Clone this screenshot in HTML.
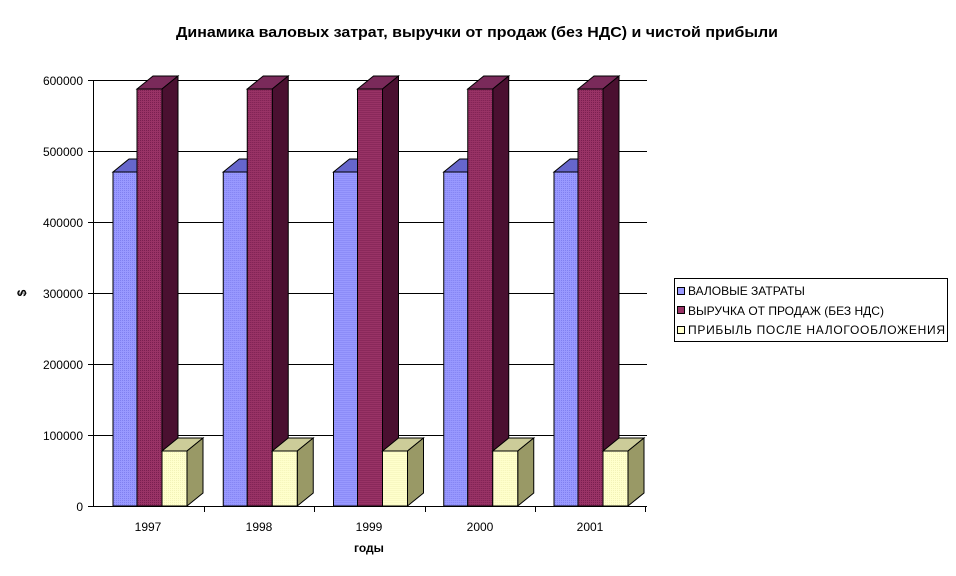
<!DOCTYPE html>
<html><head><meta charset="utf-8"><style>
body{margin:0;background:#fff}
svg{display:block}
text{font-family:"Liberation Sans",sans-serif}
</style></head><body>
<svg width="956" height="576" viewBox="0 0 956 576" xmlns="http://www.w3.org/2000/svg">
<defs>
<pattern id="pb" width="2" height="2" patternUnits="userSpaceOnUse"><rect width="2" height="2" fill="#9999ff"/><rect width="1" height="1" fill="#8080f0"/></pattern>
<pattern id="pm" width="2" height="2" patternUnits="userSpaceOnUse"><rect width="2" height="2" fill="#993366"/><rect width="1" height="1" fill="#7a1f50"/></pattern>
<pattern id="py" width="2" height="2" patternUnits="userSpaceOnUse"><rect width="2" height="2" fill="#ffffcc"/><rect width="1" height="1" fill="#f2f2b8"/></pattern>
</defs>
<text x="176" y="37" font-size="15" font-weight="bold" textLength="602" lengthAdjust="spacingAndGlyphs">Динамика валовых затрат, выручки от продаж (без НДС) и чистой прибыли</text>
<g stroke="#000" stroke-width="1">
<line x1="88" y1="80.5" x2="647" y2="80.5"/>
<line x1="88" y1="151.5" x2="647" y2="151.5"/>
<line x1="88" y1="222.5" x2="647" y2="222.5"/>
<line x1="88" y1="293.5" x2="647" y2="293.5"/>
<line x1="88" y1="364.5" x2="647" y2="364.5"/>
<line x1="88" y1="435.5" x2="647" y2="435.5"/>
<line x1="88" y1="506.5" x2="647" y2="506.5"/>
<line x1="93.5" y1="80" x2="93.5" y2="507"/>
<line x1="204.5" y1="506" x2="204.5" y2="512"/>
<line x1="314.5" y1="506" x2="314.5" y2="512"/>
<line x1="425.5" y1="506" x2="425.5" y2="512"/>
<line x1="535.5" y1="506" x2="535.5" y2="512"/>
<line x1="645.5" y1="506" x2="645.5" y2="512"/>
</g>
<g font-size="12" text-anchor="end">
<text x="83" y="85">600000</text><text x="83" y="156">500000</text><text x="83" y="227">400000</text>
<text x="83" y="298">300000</text><text x="83" y="369">200000</text><text x="83" y="440">100000</text><text x="83" y="511">0</text>
</g>
<g font-size="12" text-anchor="middle">
<text x="148" y="531">1997</text><text x="259" y="531">1998</text><text x="369" y="531">1999</text><text x="480" y="531">2000</text><text x="590" y="531">2001</text>
</g>
<text x="369" y="552" font-size="12" font-weight="bold" text-anchor="middle">годы</text>
<text transform="translate(26,293) rotate(-90)" font-size="12" font-weight="bold" text-anchor="middle">$</text>
<g id="grp" stroke="#000" stroke-width="1">
<polygon points="113,172 129,159 153,159 137,172" fill="#6666cc"/>
<rect x="113" y="172" width="24" height="334" fill="url(#pb)"/>
<polygon points="137,89 153,76 178,76 162,89" fill="#7a2a5a"/>
<polygon points="162,89 178,76 178,493 162,506" fill="#4a1030"/>
<rect x="137" y="89" width="25" height="417" fill="url(#pm)"/>
<polygon points="162,451 178,438 203,438 187,451" fill="#cccc99"/>
<polygon points="187,451 203,438 203,493 187,506" fill="#999966"/>
<rect x="162" y="451" width="25" height="55" fill="url(#py)"/>
</g>
<use href="#grp" x="110.25"/>
<use href="#grp" x="220.5"/>
<use href="#grp" x="330.75"/>
<use href="#grp" x="441"/>
<rect x="674.5" y="278.5" width="273" height="63" fill="#fff" stroke="#000"/>
<g stroke="#000" stroke-width="1">
<rect x="677.5" y="287.5" width="7" height="7" fill="#9999ff"/>
<rect x="677.5" y="306.5" width="7" height="7" fill="#993366"/>
<rect x="677.5" y="326.5" width="7" height="7" fill="#ffffcc"/>
</g>
<g font-size="12">
<text x="688" y="295">ВАЛОВЫЕ ЗАТРАТЫ</text>
<text x="688" y="315">ВЫРУЧКА ОТ ПРОДАЖ (БЕЗ НДС)</text>
<text x="688" y="334" textLength="257">ПРИБЫЛЬ ПОСЛЕ НАЛОГООБЛОЖЕНИЯ</text>
</g>
</svg>
</body></html>
